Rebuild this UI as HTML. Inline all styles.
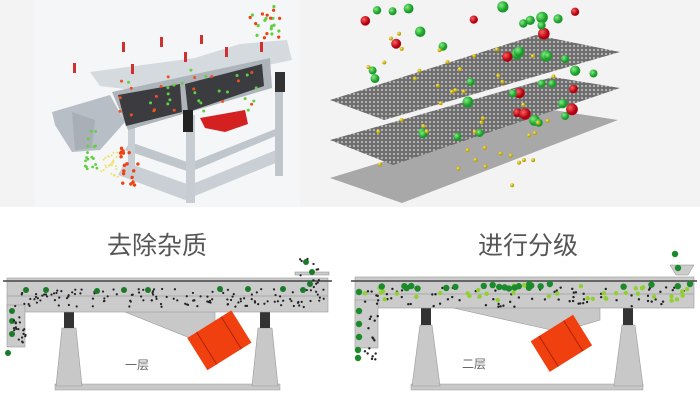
<!DOCTYPE html>
<html><head><meta charset="utf-8">
<style>
html,body{margin:0;padding:0;background:#fff;}
svg{display:block;}
text{font-family:"Liberation Sans","Noto Sans CJK SC",sans-serif;}
</style></head><body>
<svg id="s" width="700" height="420" viewBox="0 0 700 420" xmlns="http://www.w3.org/2000/svg">
<rect x="0" y="0" width="700" height="207" fill="#f3f3f3"/>
<rect x="35" y="0" width="265" height="207" fill="#f5f6f7"/>
<defs>
<pattern id="mesh" width="4" height="4" patternUnits="userSpaceOnUse">
<rect width="4" height="4" fill="#6e6e6e"/><circle cx="2" cy="2" r="1.1" fill="#b8b8b8"/>
</pattern>
<radialGradient id="gr" cx="0.35" cy="0.35"><stop offset="0" stop-color="#ff6060"/><stop offset="1" stop-color="#b00010"/></radialGradient>
<radialGradient id="gg" cx="0.35" cy="0.35"><stop offset="0" stop-color="#7ff07f"/><stop offset="1" stop-color="#1a9a2a"/></radialGradient>
<radialGradient id="gy" cx="0.35" cy="0.35"><stop offset="0" stop-color="#fff070"/><stop offset="1" stop-color="#b8a000"/></radialGradient>
</defs>

<!-- machine photo (left top) -->
<g>
<polygon points="118,175 185,200 283,160 276,150 190,185 125,162" fill="#c9cfd5"/>
<polygon points="125,150 190,172 278,135 278,128 190,163 130,142" fill="#bfc6cc"/>
<rect x="186" y="115" width="9" height="88" fill="#c6ccd2"/>
<rect x="275" y="78" width="8" height="98" fill="#bec5cb"/>
<rect x="128" y="118" width="7" height="60" fill="#c8ced4"/>
<polygon points="52,112 110,95 125,122 100,150 72,152 55,125" fill="#b7bec5"/>
<polygon points="72,112 95,120 92,148 75,150" fill="#a8afb6"/>
<polygon points="90,72 195,58 240,44 287,40 292,60 235,72 150,92 100,86" fill="#d5dade"/>
<polygon points="112,92 270,58 272,88 128,130" fill="#adb4ba"/>
<polygon points="118,95 180,84 182,112 126,126" fill="#3c3c40"/>
<polygon points="185,84 262,64 264,86 188,112" fill="#3a3c40"/>
<polygon points="200,118 245,110 248,124 225,132 205,128" fill="#d42020"/>
<rect x="183" y="110" width="10" height="22" fill="#222"/>
<rect x="275" y="72" width="10" height="20" fill="#333"/>
<g fill="#d03030">
<rect x="73" y="63" width="3" height="10"/><rect x="122" y="42" width="3" height="10"/><rect x="160" y="37" width="3" height="10"/><rect x="131" y="64" width="3" height="10"/><rect x="184" y="52" width="3" height="10"/><rect x="225" y="47" width="3" height="10"/><rect x="260" y="42" width="3" height="10"/><rect x="200" y="35" width="3" height="9"/>
</g>
<g id="mballs"></g>
</g>

<!-- screens (right top) -->
<polygon points="330,178 553,110 618,120 402,203" fill="#a8a8a8"/>
<polygon points="330,140 553,77 620,88 393,165" fill="url(#mesh)"/>
<polygon points="330,100 536,35 620,52 384,120" fill="url(#mesh)"/>
<g id="sballs"></g>

<!-- bottom titles -->
<text x="157" y="254" font-size="25" fill="#555" text-anchor="middle">去除杂质</text>
<text x="528" y="254" font-size="25" fill="#555" text-anchor="middle">进行分级</text>

<!-- left diagram -->
<g>
<rect x="55" y="384" width="225" height="6" fill="#c8c8c8" stroke="#999" stroke-width="0.5"/>
<polygon points="62,328 76,328 82,386 56,386" fill="#c8c8c8" stroke="#999" stroke-width="0.6"/>
<polygon points="258,328 272,328 278,386 252,386" fill="#c8c8c8" stroke="#999" stroke-width="0.6"/>
<rect x="64" y="312" width="10" height="16" fill="#333"/>
<rect x="260" y="312" width="10" height="16" fill="#333"/>
<polygon points="115,308 215,308 215,325 195,340" fill="#c8c8c8" stroke="#999" stroke-width="0.6"/>
<rect x="7" y="278" width="321" height="34" fill="#cbcbcb" stroke="#999" stroke-width="0.6"/>
<line x1="7" y1="296" x2="328" y2="296" stroke="#aaa"/>
<rect x="7" y="305" width="18" height="42" fill="#cbcbcb" stroke="#999" stroke-width="0.6"/>
<line x1="3" y1="281" x2="332" y2="281" stroke="#444" stroke-width="1.5"/>
<rect x="295" y="272" width="34" height="3" fill="#ccc" stroke="#888" stroke-width="0.5"/>
<g transform="rotate(-32 218 340)"><rect x="193" y="322" width="52" height="38" fill="#f04010"/><line x1="204" y1="322" x2="204" y2="360" stroke="#b02000"/><line x1="233" y1="322" x2="233" y2="360" stroke="#b02000"/></g>
<text x="125" y="369" font-size="12" fill="#666">一层</text>
</g>

<!-- right diagram -->
<g>
<rect x="411" y="384" width="232" height="6" fill="#c8c8c8" stroke="#999" stroke-width="0.5"/>
<polygon points="420,325 432,325 440,386 412,386" fill="#c8c8c8" stroke="#999" stroke-width="0.6"/>
<polygon points="622,325 635,325 643,386 614,386" fill="#c8c8c8" stroke="#999" stroke-width="0.6"/>
<rect x="421" y="308" width="10" height="17" fill="#333"/>
<rect x="623" y="308" width="10" height="17" fill="#333"/>
<polygon points="440,305 600,305 600,320 560,332" fill="#c8c8c8" stroke="#999" stroke-width="0.6"/>
<rect x="355" y="277" width="339" height="31" fill="#cbcbcb" stroke="#999" stroke-width="0.6"/>
<line x1="355" y1="294" x2="694" y2="294" stroke="#aaa"/>
<rect x="355" y="300" width="23" height="48" fill="#cbcbcb" stroke="#999" stroke-width="0.6"/>
<line x1="351" y1="281" x2="697" y2="281" stroke="#444" stroke-width="1.5"/>
<polygon points="670,265 694,265 688,275 676,275" fill="#ccc" stroke="#888" stroke-width="0.5"/>
<g transform="rotate(-32 560 343)"><rect x="536" y="326" width="50" height="36" fill="#f04010"/><line x1="546" y1="326" x2="546" y2="362" stroke="#b02000"/><line x1="575" y1="326" x2="575" y2="362" stroke="#b02000"/></g>
<text x="462" y="368" font-size="12" fill="#666">二层</text>
</g>
<g id="dots"></g>
</svg>
<script>
var seed=7;function r(){seed=(seed*16807)%2147483647;return seed/2147483647;}
var NS="http://www.w3.org/2000/svg";
function c(g,x,y,rad,f){var e=document.createElementNS(NS,"circle");e.setAttribute("cx",x);e.setAttribute("cy",y);e.setAttribute("r",rad);e.setAttribute("fill",f);document.getElementById(g).appendChild(e);}
var i;
for(i=0;i<40;i++){c("mballs",120+r()*145,70+r()*45,1.5,r()<0.5?"#f05020":"#60d040");}
for(i=0;i<18;i++)c("mballs",85+r()*12,130+r()*40,1.4,"#60d040");
for(i=0;i<25;i++)c("mballs",100+r()*18,152+r()*25,1,"#f0e060");
for(i=0;i<18;i++)c("mballs",120+r()*18,148+r()*38,1.7,"#f04010");
for(i=0;i<22;i++)c("mballs",250+r()*30,3+r()*35,1.6,r()<0.5?"#f04010":"#60d040");
for(i=0;i<30;i++){var x=365+r()*220,y=5+r()*120;c("sballs",x,y,4+r()*2,r()<0.45?"url(#gr)":"url(#gg)");}
for(i=0;i<14;i++)c("sballs",365+r()*230,55+r()*90,4,"url(#gg)");
for(i=0;i<45;i++)c("sballs",360+r()*200,30+r()*160,2,"url(#gy)");
for(i=0;i<140;i++)c("dots",20+r()*305,289+r()*18,1.1,"#222");
var gl=[[26,290],[46,290],[97,291],[124,290],[148,290],[220,289],[248,289],[283,289],[303,290],[12,311],[12,321],[12,334],[8,353],[306,262],[312,272],[310,284]];
gl.forEach(function(p){c("dots",p[0],p[1],3,"#1a7a2a");});
for(i=0;i<20;i++)c("dots",14+r()*12,305+r()*45,1.1,"#222");
for(i=0;i<12;i++)c("dots",300+r()*20,258+r()*30,1.1,"#222");
for(i=0;i<80;i++)c("dots",365+r()*325,287+r()*20,1.2,"#222");
for(i=0;i<40;i++)c("dots",365+r()*325,285+r()*16,2.2,"#90d030");
for(i=0;i<22;i++)c("dots",372+r()*315,284+r()*5,3.2,"#1a8a2a");
[[359,292],[359,311],[359,324],[359,337],[358,350],[358,358],[675,254],[678,268],[690,284]].forEach(function(p){c("dots",p[0],p[1],3.2,"#1a8a2a");});
for(i=0;i<15;i++)c("dots",364+r()*14,305+r()*55,1.2,"#222");
</script>
</body></html>
